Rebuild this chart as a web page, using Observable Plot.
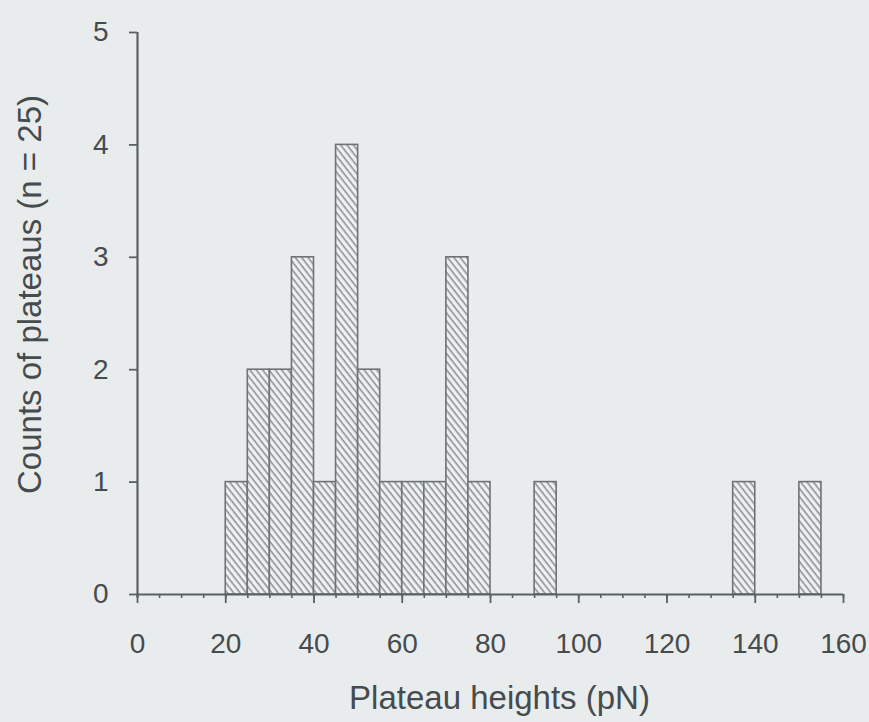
<!DOCTYPE html>
<html>
<head>
<meta charset="utf-8">
<script src="https://cdn.jsdelivr.net/npm/d3@7"></script>
<script src="https://cdn.jsdelivr.net/npm/@observablehq/plot@0.6"></script>
<style>
  html, body { margin: 0; padding: 0; background: #e9eced; }
  #chart svg { display: block; }
</style>
</head>
<body>
<div id="chart"></div>
<script>
// Histogram data: left edge of each 5 pN bin and its count
const binStarts = [20, 25, 30, 35, 40, 45, 50, 55, 60, 65, 70, 75, 90, 135, 150];
const counts    = [1,  2,  2,  3,  1,  4,  2,  1,  1,  1,  3,  1,  1,  1,   1];
const binWidth = 5;
const xMajorTicks = [0, 20, 40, 60, 80, 100, 120, 140, 160];
const xMinorTicks = d3.range(0, 161, 5);
const yTicks = [0, 1, 2, 3, 4, 5];
const xLabel = "Plateau heights (pN)";
const yLabel = "Counts of plateaus (n = 25)";

const bars = binStarts.map((s, i) => ({start: s, end: s + binWidth, count: counts[i]}));

const ink = "#5a6063";
const barInk = "#6d7376";
const textInk = "#464b4e";
const font = "Liberation Sans, Arial, sans-serif";

const chart = Plot.plot({
  width: 869,
  height: 722,
  marginLeft: 137,
  marginRight: 26,
  marginTop: 32,
  marginBottom: 128,
  style: {background: "#e9eced", color: ink, fontFamily: font},
  x: {domain: [0, 160]},
  y: {domain: [0, 5]},
  marks: [
    Plot.rectY(bars, {x1: "start", x2: "end", y: "count", fill: "url(#hatch)", stroke: barInk, strokeWidth: 1.6}),
    Plot.ruleY([0], {stroke: ink, strokeWidth: 2.2}),
    Plot.ruleX([0], {y1: -0.03, y2: 5, stroke: ink, strokeWidth: 2.2}),
    Plot.axisX({ticks: xMinorTicks, tickSize: 4, tickFormat: () => "", stroke: ink, strokeWidth: 1.6, label: null}),
    Plot.axisX({ticks: xMajorTicks, tickSize: 9, tickPadding: 30, fontSize: 28, stroke: ink, strokeWidth: 1.8, label: null, fill: textInk, tickFormat: d3.format("d")}),
    Plot.axisY({ticks: yTicks, tickSize: 8, tickPadding: 21, fontSize: 28, stroke: ink, strokeWidth: 1.8, label: null, fill: textInk, tickFormat: d3.format("d")}),
    Plot.text([xLabel], {frameAnchor: "bottom", textAnchor: "middle", lineAnchor: "middle", dx: 9, dy: 104, fontSize: 33, fill: textInk}),
    Plot.text([yLabel], {frameAnchor: "left", textAnchor: "middle", lineAnchor: "middle", dx: -107, dy: -19, rotate: -90, fontSize: 33, fill: textInk})
  ]
});

// Hatch pattern definition (diagonal lines running top-left to bottom-right)
const defs = d3.select(chart).insert("defs", ":first-child");
const pat = defs.append("pattern")
  .attr("id", "hatch")
  .attr("patternUnits", "userSpaceOnUse")
  .attr("width", 10)
  .attr("height", 5)
  .attr("patternTransform", "rotate(52)");
pat.append("rect").attr("width", 10).attr("height", 5).attr("fill", "#eff1f1");
pat.append("line").attr("x1", 0).attr("y1", 0.8).attr("x2", 10).attr("y2", 0.8)
  .attr("stroke", "#7f8588").attr("stroke-width", 1.4);

document.getElementById("chart").appendChild(chart);
</script>
</body>
</html>
